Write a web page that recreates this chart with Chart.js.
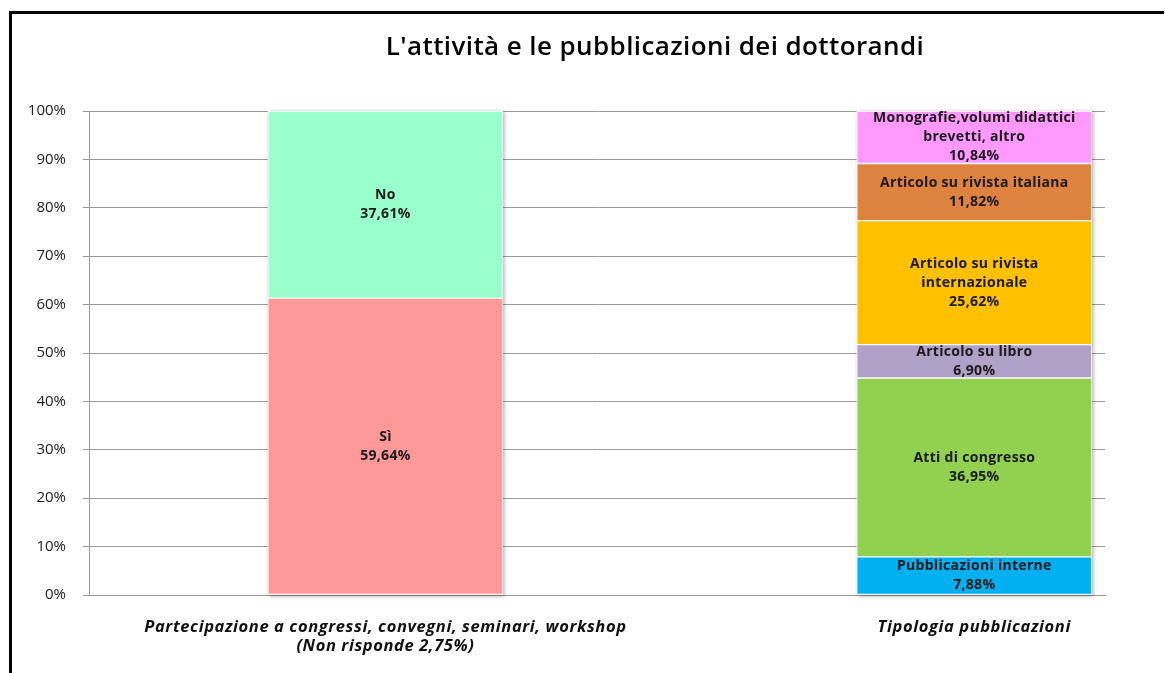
<!DOCTYPE html>
<html>
<head>
<meta charset="utf-8">
<script src="https://cdn.jsdelivr.net/npm/chart.js@4/dist/chart.umd.min.js"></script>
<style>
  html, body { margin: 0; padding: 0; background: #fff; }
  #wrap { width: 1165px; height: 673px; position: relative; }
</style>
</head>
<body>
<div id="wrap"><canvas id="c" width="1165" height="673"></canvas></div>
<script>
const titleText = "L'attività e le pubblicazioni dei dottorandi";
const categories = [
  ["Partecipazione a congressi, convegni, seminari, workshop", "(Non risponde 2,75%)"],
  ["Tipologia pubblicazioni"]
];
const participationLabels = ["Sì", "No"];
const participationValues = [59.64, 37.61];
const participationColors = ["#FF9999", "#99FFCC"];
const publicationLabels = [
  "Pubblicazioni interne",
  "Atti di congresso",
  "Articolo su libro",
  "Articolo su rivista\ninternazionale",
  "Articolo su rivista italiana",
  "Monografie,volumi didattici\nbrevetti, altro"
];
const publicationValues = [7.88, 36.95, 6.90, 25.62, 11.82, 10.84];
const publicationColors = ["#00B0F0", "#92D050", "#B1A0C7", "#FFC000", "#DE833F", "#FF99FF"];
const yTickValues = [0, 10, 20, 30, 40, 50, 60, 70, 80, 90, 100];

function fmt(v) { return v.toFixed(2).replace('.', ',') + '%'; }

function buildDatasets(labels, values, colors, xPos) {
  const total = values.reduce((a, b) => a + b, 0);
  return labels.map((lab, i) => ({
    label: lab,
    data: [{ x: xPos, y: values[i] / total * 100 }],
    raw: values[i],
    backgroundColor: colors[i],
    borderColor: '#ffffff',
    borderWidth: 1,
    borderSkipped: false,
    barThickness: 235,
    stack: 's'
  }));
}

const datasets = [
  ...buildDatasets(participationLabels, participationValues, participationColors, 0),
  ...buildDatasets(publicationLabels, publicationValues, publicationColors, 1)
];

const framePlugin = {
  id: 'frame',
  beforeDraw(chart) {
    const ctx = chart.ctx;
    ctx.save();
    ctx.fillStyle = '#fff';
    ctx.fillRect(0, 0, chart.width, chart.height);
    ctx.strokeStyle = '#000';
    ctx.lineWidth = 3;
    ctx.beginPath();
    ctx.moveTo(10.5, chart.height);
    ctx.lineTo(10.5, 12.5);
    ctx.lineTo(chart.width - 1, 12.5);
    ctx.stroke();
    ctx.fillStyle = '#000';
    ctx.font = '600 26px "Open Sans"';
    ctx.letterSpacing = '0.4px';
    ctx.textAlign = 'center';
    ctx.textBaseline = 'middle';
    ctx.fillText(titleText, 655, 48);
    ctx.restore();
  }
};

const shadowPlugin = {
  id: 'barShadow',
  beforeDatasetsDraw(chart) {
    const ctx = chart.ctx;
    const groups = {};
    chart.data.datasets.forEach((ds, di) => {
      const meta = chart.getDatasetMeta(di);
      meta.data.forEach(el => {
        const k = Math.round(el.x);
        const g = groups[k] || (groups[k] = { x: el.x, w: el.width, top: Infinity, bottom: -Infinity });
        g.top = Math.min(g.top, el.y, el.base);
        g.bottom = Math.max(g.bottom, el.y, el.base);
      });
    });
    ctx.save();
    Object.values(groups).forEach(g => {
      ctx.shadowColor = 'rgba(0,0,0,0.35)';
      ctx.shadowBlur = 4;
      ctx.shadowOffsetX = 1;
      ctx.shadowOffsetY = 1;
      ctx.fillStyle = '#fff';
      ctx.fillRect(g.x - g.w / 2, g.top, g.w, g.bottom - g.top);
    });
    ctx.restore();
  }
};

const labelPlugin = {
  id: 'segLabels',
  afterDatasetsDraw(chart) {
    const ctx = chart.ctx;
    ctx.save();
    ctx.font = 'bold 14px "Open Sans"';
    ctx.letterSpacing = '0.3px';
    ctx.fillStyle = '#1a1a1a';
    ctx.textAlign = 'center';
    ctx.textBaseline = 'middle';
    chart.data.datasets.forEach((ds, di) => {
      const meta = chart.getDatasetMeta(di);
      meta.data.forEach(el => {
        const lines = ds.label.split('\n').concat([fmt(ds.raw)]);
        const cy = (el.y + el.base) / 2;
        const lh = 19;
        const start = cy - (lines.length - 1) * lh / 2;
        lines.forEach((t, i) => ctx.fillText(t, el.x, start + i * lh));
      });
    });
    ctx.restore();
  }
};

const xLabelPlugin = {
  id: 'xLabels',
  afterDraw(chart) {
    const ctx = chart.ctx;
    const xs = chart.scales.x;
    ctx.save();
    ctx.font = 'italic bold 16.5px "Open Sans"';
    ctx.letterSpacing = '0.6px';
    ctx.fillStyle = '#111';
    ctx.textAlign = 'center';
    ctx.textBaseline = 'middle';
    categories.forEach((lines, i) => {
      const px = xs.getPixelForValue(i);
      lines.forEach((t, j) => ctx.fillText(t, px, xs.top + 32 + j * 19));
    });
    ctx.restore();
  }
};

new Chart(document.getElementById('c'), {
  type: 'bar',
  data: { datasets },
  plugins: [framePlugin, shadowPlugin, labelPlugin, xLabelPlugin],
  options: {
    responsive: false,
    animation: false,
    events: [],
    layout: { padding: { top: 111, right: 60, left: 0, bottom: 0 } },
    plugins: { legend: { display: false }, tooltip: { enabled: false }, title: { display: false } },
    scales: {
      x: {
        type: 'linear',
        stacked: true,
        offset: false,
        min: -0.5034,
        max: 1.222,
        afterBuildTicks(scale) { scale.ticks = [{ value: 0 }, { value: 1 }]; },
        afterFit(scale) { scale.height = 78; },
        grid: { display: false, drawTicks: false, offset: false },
        border: { display: true, color: '#9a9a9a', width: 1 },
        ticks: {
          autoSkip: false,
          maxRotation: 0,
          padding: 22,
          color: 'rgba(0,0,0,0)',
          font: { family: 'Open Sans', size: 15, weight: 'bold', style: 'italic' },
          callback: () => ''
        }
      },
      y: {
        stacked: true,
        min: 0,
        max: 100,
        afterBuildTicks(scale) { scale.ticks = yTickValues.map(v => ({ value: v })); },
        afterFit(scale) { scale.width = 89; },
        grid: { color: '#9a9a9a', lineWidth: 1, tickLength: 6, drawTicks: true },
        border: { display: true, color: '#9a9a9a', width: 1 },
        ticks: {
          padding: 17,
          color: '#222',
          font: { family: 'Open Sans', size: 15 },
          callback: (v) => v + '%'
        }
      }
    }
  }
});
</script>
</body>
</html>
